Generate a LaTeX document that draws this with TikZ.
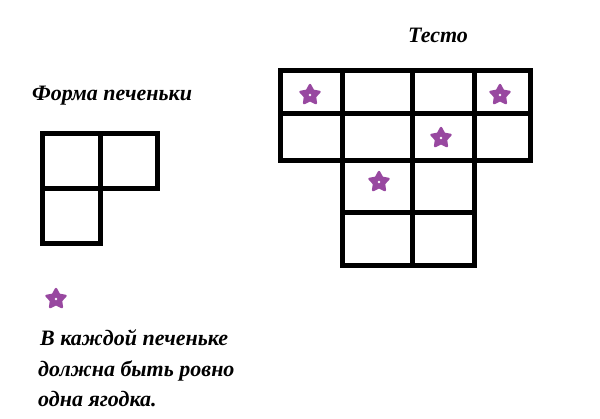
\documentclass[tikz,border=0pt]{standalone}
\usepackage{fontspec}
\setmainfont{Liberation Serif}
\usetikzlibrary{
	shapes.geometric,
}
\definecolor{berrypurple}{RGB}{152,72,160}

\begin{document}
\begin{tikzpicture}[x=1pt, y=-1pt,
		wall/.style={line width=5pt, line join=miter},
		berry/.style={star, star points=5, star point ratio=1.9, fill=berrypurple, draw=berrypurple, line width=2.4pt, line join=round, minimum size=20pt, inner sep=0pt},
		hand/.style={font=\bfseries\itshape\fontsize{22}{22}\selectfont, anchor=base west, inner sep=0pt}]
			\useasboundingbox (0,0) rectangle (600,418);
			% cookie shape
			\node[hand] (shape) at (32,100) {Форма печеньки};
			\draw[wall] (42,133) rectangle (157,188);
			\draw[wall] (42,188) rectangle (100,243);
			\draw[wall] (100,133) -- (100,188);
			% dough
			\node[hand] (dough) at (408,42) {Тесто};
			\draw[wall] (280,70) rectangle (530,160);
			\draw[wall] (280,113) -- (530,113);
			\foreach \x in {342,412,474}
				\draw[wall] (\x,70) -- (\x,160);
			\draw[wall] (342,160) rectangle (474,265);
			\draw[wall] (342,212) -- (474,212);
			\draw[wall] (412,160) -- (412,265);
			% berries
			\node[berry] (b1) at (310,95) {};
			\node[berry] (b2) at (500,95) {};
			\node[berry] (b3) at (441,138) {};
			\node[berry] (b4) at (379,182) {};
			\node[berry] (b5) at (56,299) {};
			\foreach \b in {b1,b2,b3,b4,b5}
				\fill[white] (\b) circle (1.4pt);
			% rule
			\node[hand] (rule1) at (40,345) {В каждой печеньке};
			\node[hand] (rule2) at (38,376) {должна быть ровно};
			\node[hand] (rule3) at (38,406) {одна ягодка.};
		\end{tikzpicture}
\end{document}
